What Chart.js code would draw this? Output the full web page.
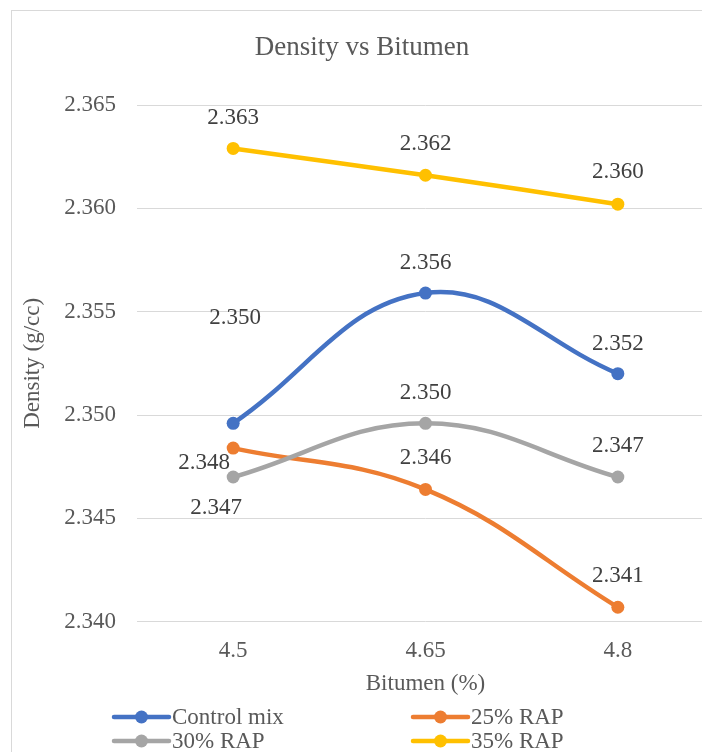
<!DOCTYPE html>
<html>
<head>
<meta charset="utf-8">
<script src="https://cdn.jsdelivr.net/npm/chart.js@4.4.1/dist/chart.umd.min.js"></script>
<style>
    html, body { margin: 0; padding: 0; background: #ffffff; overflow: hidden; }
    #wrap { position: absolute; left: 0; top: 0; width: 730px; height: 752px; }
</style>
</head>
<body>
<div id="wrap"><canvas id="densityChart"></canvas></div>
<script>
// Chart data
const bitumen = ['4.5', '4.65', '4.8'];
const controlMix = [2.3496, 2.3559, 2.3520];
const rap25 = [2.3484, 2.3464, 2.3407];
const rap30 = [2.3470, 2.3496, 2.3470];
const rap35 = [2.3629, 2.3616, 2.3602];
const yTicks = [2.340, 2.345, 2.350, 2.355, 2.360, 2.365];

// Where Excel put each data label, relative to its point (px)
const labelOffsets = [
    [[2, -105], [0, -30], [0, -30]],
    [[-29, 15], [0, -31], [0, -31]],
    [[-17, 31], [0, -30], [0, -31]],
    [[0, -30], [0, -31], [0, -32]]
];

const serif = "'Liberation Serif', 'Times New Roman', serif";
const textGrey = '#595959';

function series(label, data, color, order) {
    return {
        label: label,
        data: data,
        borderColor: color,
        backgroundColor: color,
        borderWidth: 4.5,
        pointRadius: 6.5,
        pointHoverRadius: 6.5,
        pointBorderWidth: 0,
        tension: 0.4,
        order: order
    };
}

// Frame, title, data labels and the two-column legend
const excelLook = {
    id: 'excelLook',
    beforeDraw(chart) {
        const ctx = chart.ctx;
        ctx.save();
        ctx.fillStyle = '#ffffff';
        ctx.fillRect(0, 0, chart.width, chart.height);
        ctx.strokeStyle = '#d9d9d9';
        ctx.lineWidth = 1;
        ctx.strokeRect(11.5, 10.5, 900, 900);
        ctx.fillStyle = textGrey;
        ctx.font = '27px ' + serif;
        ctx.textAlign = 'center';
        ctx.textBaseline = 'middle';
        ctx.fillText('Density vs Bitumen', 362, 48);
        ctx.restore();
    },
    afterDatasetsDraw(chart) {
        const ctx = chart.ctx;
        ctx.save();
        ctx.font = '23px ' + serif;
        ctx.fillStyle = '#404040';
        ctx.textAlign = 'center';
        ctx.textBaseline = 'middle';
        chart.data.datasets.forEach((ds, i) => {
            const meta = chart.getDatasetMeta(i);
            meta.data.forEach((pt, j) => {
                const off = labelOffsets[i][j];
                ctx.fillText(ds.data[j].toFixed(3), pt.x + off[0], pt.y + off[1]);
            });
        });

        // legend
        const cols = [114, 413];
        const rows = [717, 741];
        ctx.textAlign = 'left';
        ctx.fillStyle = textGrey;
        chart.data.datasets.forEach((ds, i) => {
            const x = cols[i % 2];
            const y = rows[Math.floor(i / 2)];
            ctx.strokeStyle = ds.borderColor;
            ctx.lineWidth = 4.5;
            ctx.lineCap = 'round';
            ctx.beginPath();
            ctx.moveTo(x, y);
            ctx.lineTo(x + 55, y);
            ctx.stroke();
            ctx.fillStyle = ds.backgroundColor;
            ctx.beginPath();
            ctx.arc(x + 27.5, y, 6.5, 0, Math.PI * 2);
            ctx.fill();
            ctx.fillStyle = textGrey;
            ctx.fillText(ds.label, x + 58, y + 1);
        });
        ctx.restore();
    }
};

const ctx = document.getElementById('densityChart').getContext('2d');
const densityChart = new Chart(ctx, {
    type: 'line',
    data: {
        labels: bitumen,
        datasets: [
            series('Control mix', controlMix, '#4472C4', 4),
            series('25% RAP', rap25, '#ED7D31', 3),
            series('30% RAP', rap30, '#A5A5A5', 2),
            series('35% RAP', rap35, '#FFC000', 1)
        ]
    },
    options: {
        responsive: true,
        maintainAspectRatio: false,
        animation: false,
        layout: { padding: { top: 105, right: 16, bottom: 0, left: 0 } },
        plugins: {
            legend: { display: false },
            title: { display: false },
            tooltip: { enabled: false }
        },
        scales: {
            x: {
                offset: true,
                grid: { display: false, drawTicks: false },
                border: { display: false },
                ticks: { color: textGrey, font: { family: serif, size: 23 }, padding: 15 },
                title: {
                    display: true,
                    text: 'Bitumen (%)',
                    color: textGrey,
                    font: { family: serif, size: 23 },
                    padding: { top: 0, bottom: 54 }
                },
                afterFit: function(scale) { scale.height = 130.3; }
            },
            y: {
                min: 2.340,
                max: 2.365,
                grid: { color: '#d9d9d9', lineWidth: 1, drawTicks: false },
                border: { display: false },
                afterBuildTicks: function(scale) {
                    scale.ticks = yTicks.map(v => ({ value: v }));
                },
                ticks: {
                    color: textGrey,
                    font: { family: serif, size: 23 },
                    padding: 21,
                    callback: function(value) { return value.toFixed(3); }
                },
                title: {
                    display: true,
                    text: 'Density (g/cc)',
                    color: textGrey,
                    font: { family: serif, size: 23 },
                    padding: { top: 19, bottom: 0 }
                },
                afterFit: function(scale) { scale.width = 137; }
            }
        }
    },
    plugins: [excelLook]
});
</script>
</body>
</html>
